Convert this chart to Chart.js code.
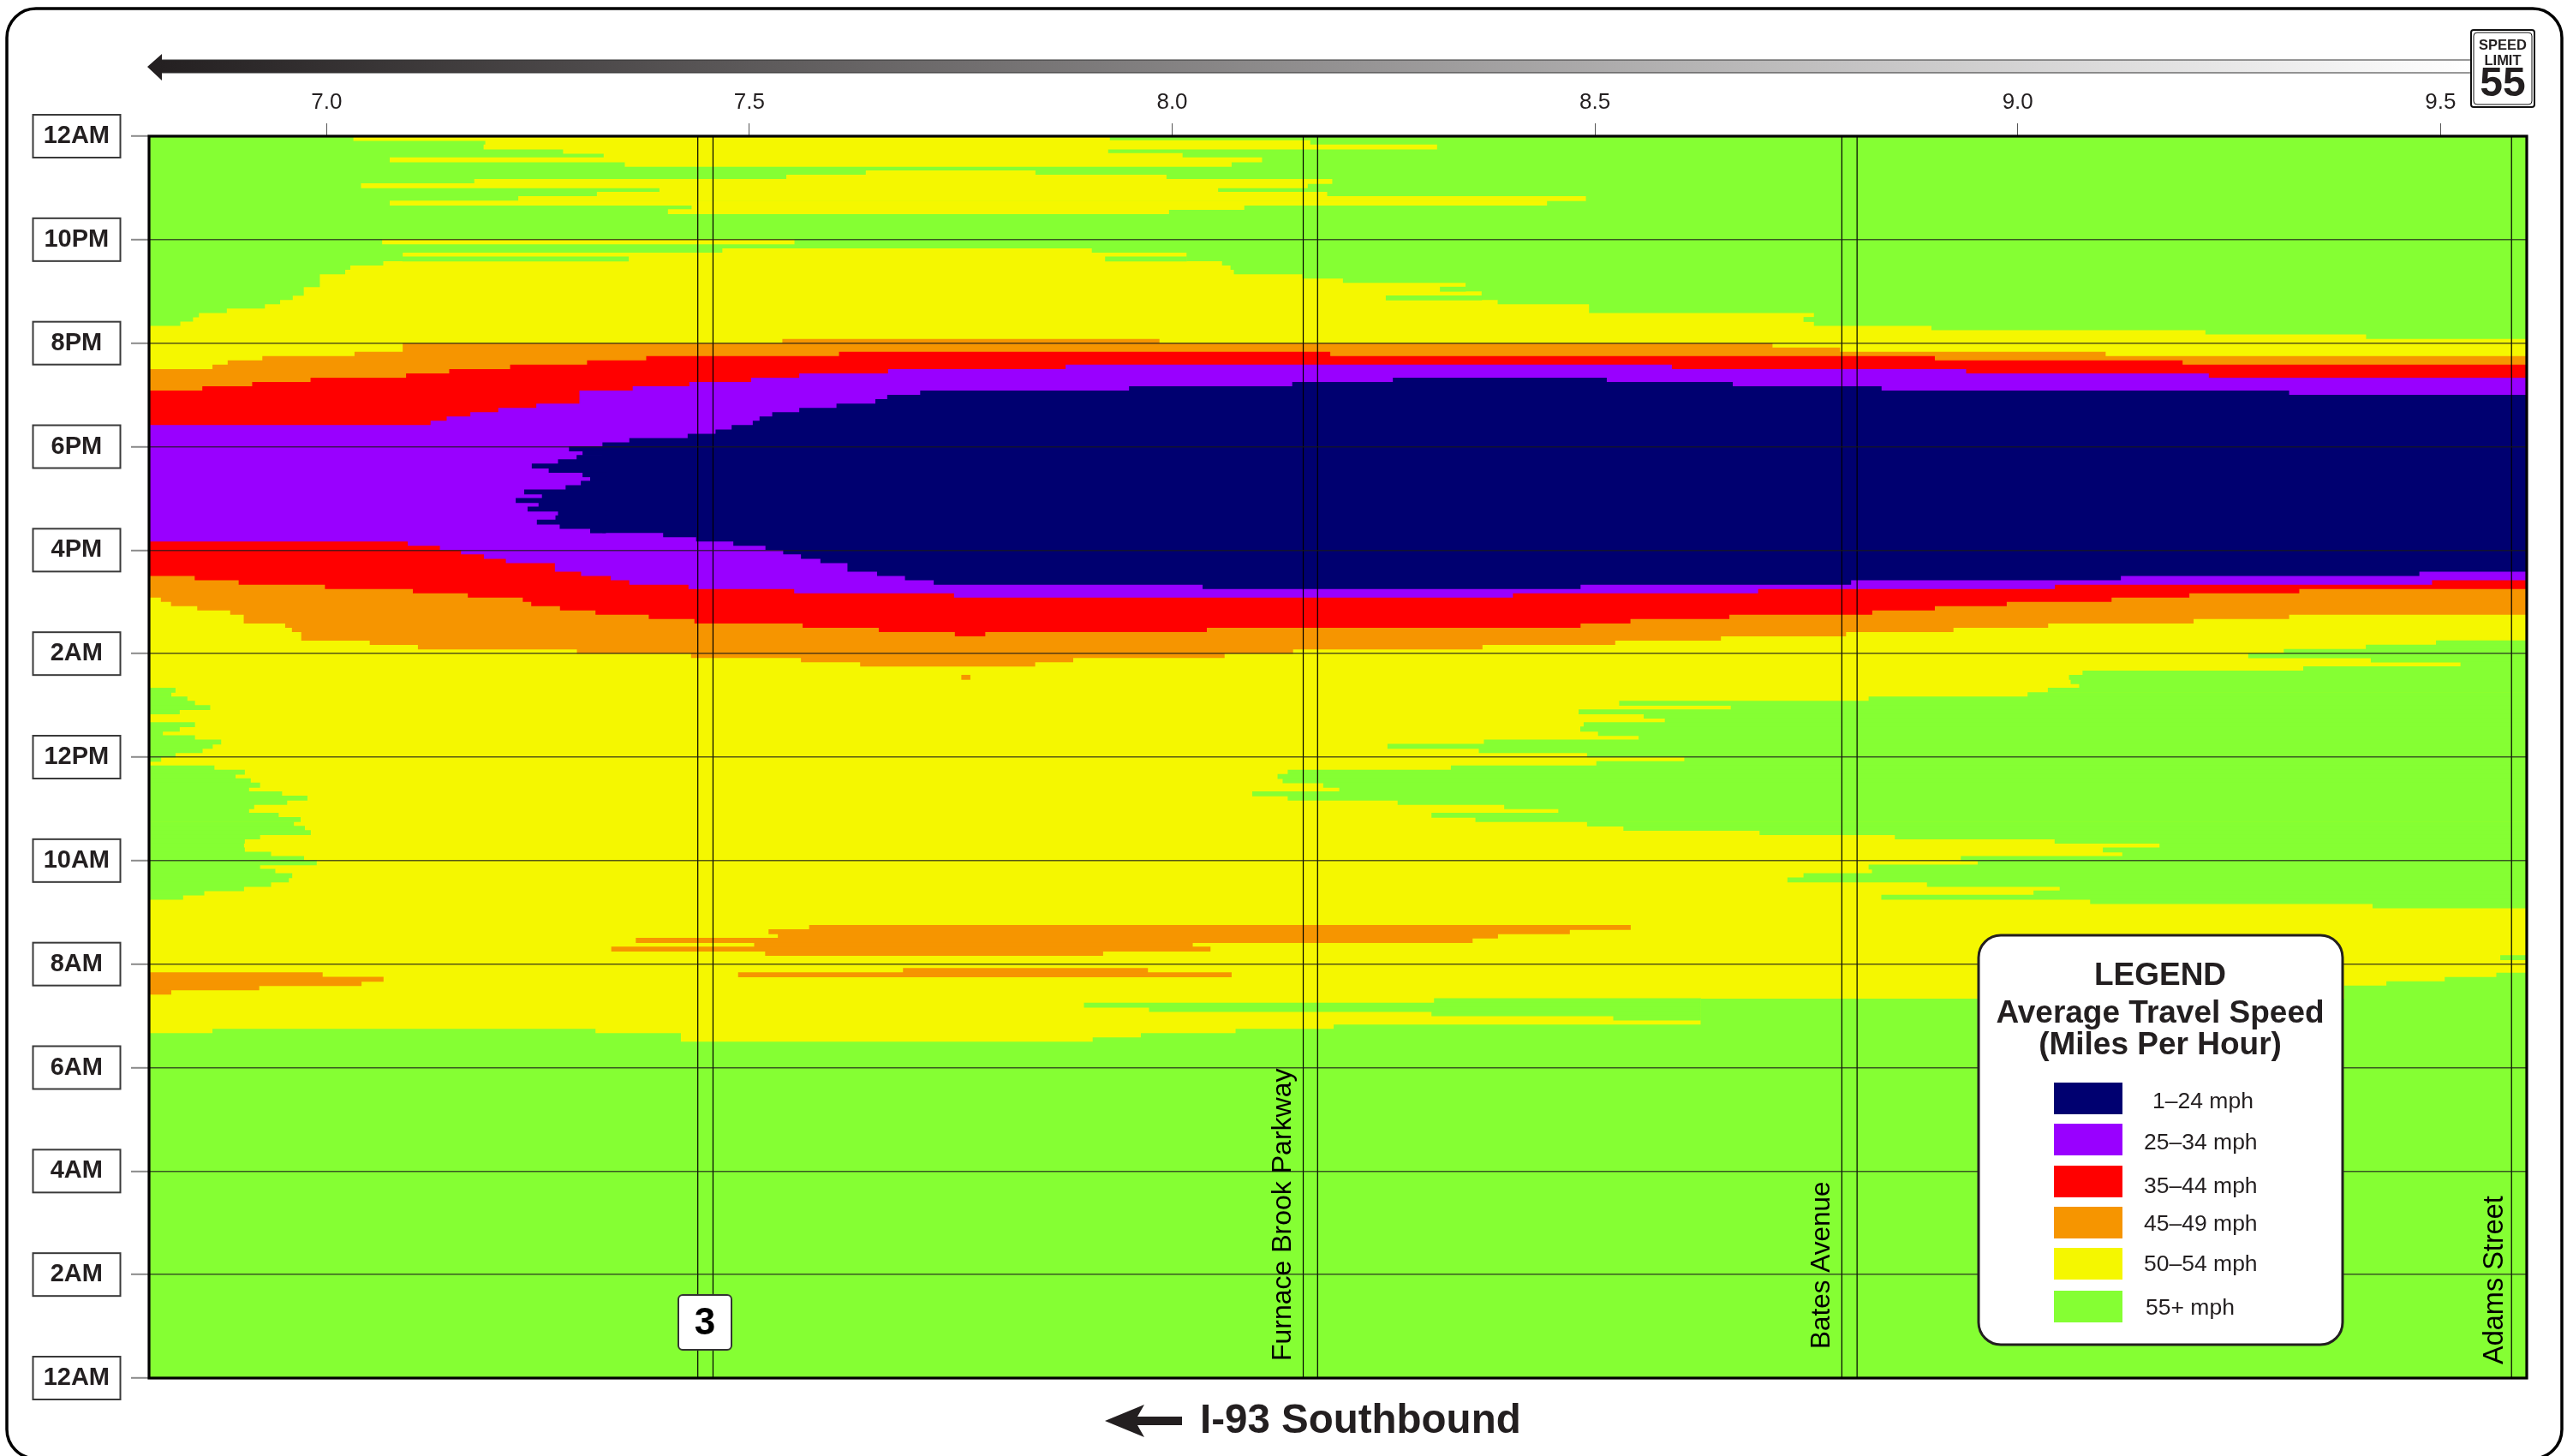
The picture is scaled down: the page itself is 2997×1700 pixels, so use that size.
<!DOCTYPE html>
<html>
<head>
<meta charset="utf-8">
<title>I-93 Southbound speed map</title>
<style>
  html, body { margin: 0; padding: 0; background: #fff; }
  canvas { display: block; }
</style>
<script src="https://cdn.jsdelivr.net/npm/chart.js@4/dist/chart.umd.min.js"></script>
</head>
<body>
<canvas id="speedMap" width="2997" height="1700"></canvas>
<script>
// axis range and labels
const mileMin = 6.79, mileMax = 9.602;
const hourLabels = ['12AM', '2AM', '4AM', '6AM', '8AM', '10AM', '12PM', '2AM', '4PM', '6PM', '8PM', '10PM', '12AM'];
const interchangeMiles = [7.439, 7.457, 8.155, 8.172, 8.792, 8.81, 9.584];

// speed classes
const speedLabels = ['1–24 mph', '25–34 mph', '35–44 mph', '45–49 mph', '50–54 mph', '55+ mph'];
const navy = '#000070', purple = '#9900ff', red = '#ff0000', orange = '#f69500', yellow = '#f5f700', green = '#85ff33';
const speedColors = [navy, purple, red, orange, yellow, green];

// class boundaries: each hour value holds from its mile up to the next mile
const greenTopMiles = [6.79, 6.865, 7.318, 7.419, 7.906, 7.963, 8.075, 8.191, 8.625, 9.386, 9.436, 9.505, 9.566];
const greenTopHours = [6.667, 6.75, 6.667, 6.5, 6.583, 6.667, 6.75, 6.833, 7.333, 7.583, 7.667, 7.75, 7.833];

const orangeBottomMiles = [6.79, 6.804, 6.816, 6.847, 6.886, 6.902, 6.951, 6.959, 6.97, 7.051, 7.108, 7.296, 7.431, 7.561, 7.631, 7.838, 7.883, 8.062, 8.143, 8.367, 8.524, 8.649, 8.797, 8.924, 9.036, 9.208, 9.321];
const orangeBottomHours = [15.083, 15, 14.917, 14.833, 14.75, 14.583, 14.5, 14.417, 14.25, 14.167, 14.083, 14, 13.917, 13.833, 13.75, 13.833, 13.917, 14, 14.083, 14.167, 14.25, 14.333, 14.417, 14.5, 14.583, 14.667, 14.75];

const redBottomMiles = [6.79, 6.844, 6.896, 6.998, 7.102, 7.167, 7.232, 7.242, 7.276, 7.318, 7.381, 7.435, 7.563, 7.653, 7.743, 7.779, 8.041, 8.483, 8.542, 8.659, 8.828, 8.902, 8.987, 9.111, 9.203, 9.333];
const redBottomHours = [15.5, 15.417, 15.333, 15.25, 15.167, 15.083, 15, 14.917, 14.833, 14.75, 14.667, 14.583, 14.5, 14.417, 14.333, 14.417, 14.5, 14.583, 14.667, 14.75, 14.833, 14.917, 15, 15.083, 15.167, 15.25];

const purpleBottomMiles = [6.79, 7.096, 7.134, 7.159, 7.186, 7.212, 7.27, 7.301, 7.336, 7.358, 7.428, 7.553, 7.742, 8.403, 8.693, 9.044, 9.49];
const purpleBottomHours = [16.167, 16.083, 16, 15.917, 15.833, 15.75, 15.583, 15.5, 15.417, 15.333, 15.25, 15.167, 15.083, 15.167, 15.25, 15.333, 15.417];

const navyBottomMiles = [7.326, 7.398, 7.437, 7.481, 7.519, 7.54, 7.561, 7.584, 7.616, 7.651, 7.684, 7.718, 8.036, 8.483, 8.803, 9.122, 9.475];
const navyBottomHours = [16.333, 16.25, 16.167, 16.083, 16, 15.917, 15.833, 15.75, 15.583, 15.5, 15.417, 15.333, 15.25, 15.333, 15.417, 15.5, 15.583];

const navyTopMiles = [6.79, 7.326, 7.358, 7.427, 7.46, 7.479, 7.504, 7.512, 7.527, 7.559, 7.603, 7.649, 7.663, 7.702, 7.949, 8.142, 8.261, 8.514, 8.663, 8.839, 9.321];
const navyTopHours = [18, 18.083, 18.167, 18.25, 18.333, 18.417, 18.5, 18.583, 18.667, 18.75, 18.833, 18.917, 19, 19.083, 19.167, 19.25, 19.333, 19.25, 19.167, 19.083, 19];

const purpleTopMiles = [6.79, 7.123, 7.142, 7.17, 7.203, 7.248, 7.299, 7.362, 7.429, 7.502, 7.559, 7.664, 7.874, 8.591, 8.939, 9.226];
const purpleTopHours = [18.417, 18.5, 18.583, 18.667, 18.75, 18.833, 19.083, 19.167, 19.25, 19.333, 19.417, 19.5, 19.583, 19.5, 19.417, 19.333];

const redTopMiles = [6.79, 6.853, 6.912, 6.981, 7.094, 7.145, 7.217, 7.308, 7.378, 7.606, 8.187, 8.902, 9.195];
const redTopHours = [19.083, 19.167, 19.25, 19.333, 19.417, 19.5, 19.583, 19.667, 19.75, 19.833, 19.75, 19.667, 19.583];

const orangeTopMiles = [6.79, 6.865, 6.883, 6.924, 7.033, 7.09, 7.539, 7.985, 8.71, 8.79, 9.104];
const orangeTopHours = [19.5, 19.583, 19.667, 19.75, 19.833, 20, 20.083, 20, 19.917, 19.833, 19.75];

const yellowTopMiles = [6.79, 6.827, 6.842, 6.849, 6.882, 6.927, 6.945, 6.96, 6.973, 6.992, 7.022, 7.028, 7.067, 7.09, 7.468, 7.905, 8.017, 8.059, 8.069, 8.073, 8.154, 8.202, 8.347, 8.366, 8.385, 8.493, 8.759, 8.898, 9.222, 9.412];
const yellowTopHours = [20.333, 20.417, 20.5, 20.583, 20.667, 20.75, 20.833, 20.917, 21.083, 21.333, 21.417, 21.5, 21.583, 21.75, 21.833, 21.75, 21.583, 21.5, 21.417, 21.333, 21.25, 21.167, 21, 20.833, 20.75, 20.583, 20.333, 20.25, 20.167, 20.083];

// single 5 minute rows that stick out of the bands
const nightYellowHours = [23.958, 23.875, 23.792, 23.708, 23.625, 23.542, 23.458, 23.292, 23.208, 23.125, 23.042, 22.958, 22.875, 22.792, 22.708, 22.625, 22.542, 21.958];
const nightYellowFrom = [7.032, 7.188, 7.186, 7.28, 7.328, 7.075, 7.353, 7.638, 7.544, 7.175, 7.041, 7.394, 7.32, 7.227, 7.075, 7.432, 7.404, 7.066];
const nightYellowTo = [7.926, 8.163, 8.313, 7.924, 8.012, 8.106, 8.07, 7.838, 7.993, 8.189, 8.16, 8.054, 8.183, 8.489, 8.443, 8.085, 7.996, 7.553];

const nightGreenHours = [21.625, 21.625, 21.042, 20.875, 20.458];
const nightGreenFrom = [7.09, 7.921, 8.317, 8.253, 8.747];
const nightGreenTo = [7.357, 8.017, 8.347, 8.366, 8.759];

const navyTipHours = [17.958, 17.875, 17.792, 17.708, 17.625, 17.542, 17.458, 17.375, 17.292, 17.208, 17.125, 17.042, 16.958, 16.875, 16.792, 16.708, 16.625, 16.542, 16.458, 16.375];
const navyTipFrom = [7.287, 7.303, 7.296, 7.274, 7.243, 7.263, 7.303, 7.312, 7.301, 7.283, 7.234, 7.255, 7.224, 7.251, 7.238, 7.274, 7.271, 7.249, 7.276, 7.312];

// midday green reaching in from the east end
const eastGreenHours = [14.208, 14.125, 14.042, 13.958, 13.875, 13.792, 13.708, 13.625, 13.542, 13.458, 13.375, 13.292, 13.208, 13.125, 13.042, 12.958, 12.875, 12.792, 12.708, 12.625, 12.542, 12.458, 12.375, 12.292, 12.208, 12.125, 12.042, 11.958, 11.875, 11.792, 11.708, 11.625, 11.542, 11.458, 11.375, 11.292, 11.208, 11.125, 11.042, 10.958, 10.875, 10.792, 10.708, 10.625, 10.542, 10.458, 10.375, 10.292, 10.208, 10.125, 10.042, 9.958, 9.875, 9.792, 9.708, 9.625, 9.542, 9.458, 9.375, 9.292, 9.208, 9.125, 8.125];
const eastGreenFrom = [9.495, 9.412, 9.315, 9.273, 9.418, 9.524, 9.338, 9.077, 9.061, 9.063, 9.073, 9.036, 9.012, 8.824, 8.529, 8.661, 8.481, 8.558, 8.583, 8.487, 8.483, 8.504, 8.552, 8.369, 8.255, 8.363, 8.491, 8.606, 8.502, 8.33, 8.137, 8.125, 8.131, 8.179, 8.198, 8.095, 8.137, 8.267, 8.393, 8.457, 8.307, 8.359, 8.491, 8.534, 8.695, 8.855, 9.044, 9.168, 9.101, 9.124, 8.933, 8.953, 8.824, 8.828, 8.747, 8.728, 8.893, 9.05, 9.019, 8.839, 9.086, 9.42, 9.571];

// midday green reaching in from the west end
const westGreenHours = [13.292, 13.208, 13.125, 13.042, 12.958, 12.875, 12.625, 12.542, 12.458, 12.375, 12.292, 12.208, 12.125, 12.042, 11.958, 11.792, 11.708, 11.625, 11.542, 11.458, 11.375, 11.292, 11.208, 11.125, 11.042, 10.958, 10.875, 10.792, 10.708, 10.625, 10.542, 10.458, 10.375, 10.292, 10.208, 10.125, 10.042, 9.958, 9.875, 9.792, 9.708, 9.625, 9.542, 9.458, 9.375, 9.292];
const westGreenTo = [6.821, 6.816, 6.835, 6.844, 6.862, 6.826, 6.844, 6.826, 6.806, 6.844, 6.875, 6.865, 6.853, 6.821, 6.804, 6.867, 6.903, 6.892, 6.91, 6.921, 6.908, 6.947, 6.977, 6.953, 6.914, 6.908, 6.943, 6.969, 6.961, 6.974, 6.981, 6.921, 6.903, 6.902, 6.903, 6.934, 6.973, 6.988, 6.921, 6.939, 6.959, 6.955, 6.934, 6.902, 6.855, 6.83];

const morningGreenHours = [7.292, 7.208, 7.125, 7.042, 6.958];
const morningGreenFrom = [8.31, 7.896, 7.973, 8.307, 8.522];
const morningGreenTo = [8.625, 8.625, 8.625, 8.625, 8.625];

// morning orange streaks
const amOrangeHours = [8.708, 8.625, 8.542, 8.458, 8.375, 8.292, 8.208, 7.875, 7.792, 7.792, 7.708, 7.625, 7.542, 7.458, 13.542];
const amOrangeFrom = [7.571, 7.523, 7.534, 7.366, 7.506, 7.337, 7.519, 7.682, 7.487, 6.79, 6.79, 6.79, 6.79, 6.79, 7.751];
const amOrangeTo = [8.542, 8.47, 8.385, 8.355, 8.024, 8.045, 7.918, 7.971, 8.07, 6.995, 7.067, 7.041, 6.92, 6.816, 7.761];

const stepBand = (color, miles, hours) => ({
  type: 'line',
  data: miles.map((m, i) => ({ x: m, y: hours[i] })).concat({ x: mileMax, y: hours[hours.length - 1] }),
  stepped: true,
  fill: 'end',
  backgroundColor: color,
  borderWidth: 0,
  pointRadius: 0
});

const rowBars = (color, hours, from, to) => ({
  type: 'bar',
  indexAxis: 'y',
  grouped: false,
  barThickness: 5.1,
  backgroundColor: color,
  borderWidth: 0,
  data: hours.map((h, i) => ({ y: h, x: [from[i], to[i]] }))
});

const fullRange = (hours, value) => hours.map(() => value);

const datasets = [
  stepBand(green, [mileMin], [0]),
  stepBand(yellow, greenTopMiles, greenTopHours),
  stepBand(orange, orangeBottomMiles, orangeBottomHours),
  stepBand(red, redBottomMiles, redBottomHours),
  stepBand(purple, purpleBottomMiles, purpleBottomHours),
  stepBand(navy, navyBottomMiles, navyBottomHours),
  stepBand(purple, navyTopMiles, navyTopHours),
  stepBand(red, purpleTopMiles, purpleTopHours),
  stepBand(orange, redTopMiles, redTopHours),
  stepBand(yellow, orangeTopMiles, orangeTopHours),
  stepBand(green, yellowTopMiles, yellowTopHours),
  rowBars(yellow, nightYellowHours, nightYellowFrom, nightYellowTo),
  rowBars(green, nightGreenHours, nightGreenFrom, nightGreenTo),
  rowBars(navy, navyTipHours, navyTipFrom, fullRange(navyTipHours, 7.33)),
  rowBars(green, eastGreenHours, eastGreenFrom, fullRange(eastGreenHours, mileMax)),
  rowBars(green, westGreenHours, fullRange(westGreenHours, mileMin), westGreenTo),
  rowBars(green, morningGreenHours, morningGreenFrom, morningGreenTo),
  rowBars(orange, amOrangeHours, amOrangeFrom, amOrangeTo)
];

interchangeMiles.forEach(m => {
  datasets.push({
    type: 'line',
    data: [{ x: m, y: 0 }, { x: m, y: 24 }],
    borderColor: '#000',
    borderWidth: 1.2,
    pointRadius: 0,
    fill: false
  });
});

// later datasets paint over earlier ones
datasets.forEach((d, i) => { d.order = datasets.length - i; });

const font = (size, bold) => (bold ? 'bold ' : '') + size + 'px "Liberation Sans", Arial, sans-serif';
const ink = '#231f20';

const sheetPlugin = {
  id: 'sheet',
  beforeDraw(chart) {
    const { ctx, scales: { y } } = chart;
    ctx.save();
    ctx.fillStyle = '#fff';
    ctx.fillRect(0, 0, chart.width, chart.height);
    ctx.strokeStyle = '#3a3a3a';
    ctx.lineWidth = 2;
    y.ticks.forEach(t => {
      ctx.strokeRect(38.5, y.getPixelForValue(t.value) - 25, 102, 50);
    });
    ctx.restore();
  },
  afterDraw(chart) {
    const { ctx, chartArea: a, scales: { x } } = chart;
    ctx.save();

    // plot border
    ctx.strokeStyle = '#000';
    ctx.lineWidth = 3.2;
    ctx.strokeRect(a.left, a.top, a.right - a.left, a.bottom - a.top);

    // road names
    const upright = (text, px, bottom, size) => {
      ctx.save();
      ctx.translate(px, bottom);
      ctx.rotate(-Math.PI / 2);
      ctx.font = font(size);
      ctx.fillStyle = '#000';
      ctx.textAlign = 'left';
      ctx.textBaseline = 'middle';
      ctx.fillText(text, 0, 0);
      ctx.restore();
    };
    upright('Furnace Brook Parkway', x.getPixelForValue(interchangeMiles[2]) - 23, 1589, 32);
    upright('Bates Avenue', x.getPixelForValue(interchangeMiles[4]) - 23, 1575, 31.5);
    upright('Adams Street', x.getPixelForValue(interchangeMiles[6]) - 19, 1593, 32.5);

    // route 3 shield
    ctx.fillStyle = '#fff';
    ctx.strokeStyle = '#333';
    ctx.lineWidth = 2;
    ctx.beginPath();
    ctx.roundRect(792, 1512, 62, 64, 5);
    ctx.fill();
    ctx.stroke();
    ctx.fillStyle = '#000';
    ctx.font = font(44, true);
    ctx.textAlign = 'center';
    ctx.textBaseline = 'middle';
    ctx.fillText('3', 823, 1546);

    // legend box
    ctx.fillStyle = '#fff';
    ctx.strokeStyle = ink;
    ctx.lineWidth = 3;
    ctx.beginPath();
    ctx.roundRect(2310, 1092, 425, 478, 26);
    ctx.fill();
    ctx.stroke();
    ctx.fillStyle = ink;
    ctx.font = font(37, true);
    ctx.fillText('LEGEND', 2522, 1140);
    ctx.fillText('Average Travel Speed', 2522, 1184);
    ctx.fillText('(Miles Per Hour)', 2522, 1221);
    const swatchTops = [1264, 1312, 1361, 1409, 1457, 1507];
    const labelMids = [1287, 1335, 1386, 1430, 1477, 1528];
    const labelLefts = [2513, 2503, 2503, 2503, 2503, 2505];
    ctx.textAlign = 'left';
    ctx.font = font(26.5);
    speedLabels.forEach((label, i) => {
      ctx.fillStyle = speedColors[i];
      ctx.fillRect(2398, swatchTops[i], 80, 37);
      ctx.fillStyle = ink;
      ctx.fillText(label, labelLefts[i], labelMids[i]);
    });

    // direction bar on top
    const fade = ctx.createLinearGradient(172, 0, 2886, 0);
    fade.addColorStop(0, '#231f20');
    fade.addColorStop(1, '#ffffff');
    ctx.fillStyle = fade;
    ctx.beginPath();
    ctx.moveTo(172, 78);
    ctx.lineTo(189, 63);
    ctx.lineTo(189, 70);
    ctx.lineTo(2886, 70);
    ctx.lineTo(2886, 85);
    ctx.lineTo(189, 85);
    ctx.lineTo(189, 94);
    ctx.closePath();
    ctx.fill();
    ctx.strokeStyle = '#333';
    ctx.lineWidth = 1.2;
    ctx.beginPath();
    ctx.moveTo(189, 70);
    ctx.lineTo(2886, 70);
    ctx.moveTo(189, 85);
    ctx.lineTo(2886, 85);
    ctx.stroke();

    // speed limit sign
    ctx.fillStyle = '#fff';
    ctx.strokeStyle = '#111';
    ctx.lineWidth = 2;
    ctx.beginPath();
    ctx.roundRect(2885, 35, 74, 90, 3);
    ctx.fill();
    ctx.stroke();
    ctx.lineWidth = 1;
    ctx.beginPath();
    ctx.roundRect(2888, 38, 68, 84, 4);
    ctx.stroke();
    ctx.fillStyle = ink;
    ctx.textAlign = 'center';
    ctx.font = font(16.5, true);
    ctx.fillText('SPEED', 2922, 53);
    ctx.fillText('LIMIT', 2922, 71);
    ctx.font = font(48, true);
    ctx.fillText('55', 2922, 99);

    // road title with arrow
    ctx.fillStyle = ink;
    ctx.beginPath();
    ctx.moveTo(1290, 1659);
    ctx.lineTo(1336, 1640);
    ctx.lineTo(1328, 1654);
    ctx.lineTo(1380, 1654);
    ctx.lineTo(1380, 1664);
    ctx.lineTo(1328, 1664);
    ctx.lineTo(1336, 1678);
    ctx.closePath();
    ctx.fill();
    ctx.font = font(47.5, true);
    ctx.textAlign = 'left';
    ctx.fillText('I-93 Southbound', 1401, 1660);

    // page frame, bottom edge runs off the sheet
    ctx.strokeStyle = '#000';
    ctx.lineWidth = 3.5;
    ctx.beginPath();
    ctx.roundRect(8, 10, 2983, 1693, 34);
    ctx.stroke();

    ctx.restore();
  }
};

new Chart(document.getElementById('speedMap').getContext('2d'), {
  type: 'line',
  data: { datasets },
  plugins: [sheetPlugin],
  options: {
    responsive: false,
    animation: false,
    devicePixelRatio: 1,
    events: [],
    layout: { padding: { left: 0, top: 0, right: 47, bottom: 91 } },
    plugins: {
      legend: { display: false },
      tooltip: { enabled: false }
    },
    scales: {
      x: {
        type: 'linear',
        position: 'top',
        min: mileMin,
        max: mileMax,
        offset: false,
        afterFit(scale) { scale.height = 159; },
        grid: { offset: false, drawOnChartArea: false, drawTicks: true, tickLength: 15, tickColor: '#555', tickWidth: 1 },
        border: { display: false },
        ticks: {
          stepSize: 0.5,
          includeBounds: false,
          autoSkip: false,
          maxRotation: 0,
          padding: 9,
          color: ink,
          font: { family: '"Liberation Sans", Arial, sans-serif', size: 26 },
          callback: v => v.toFixed(1)
        }
      },
      y: {
        type: 'linear',
        min: 0,
        max: 24,
        offset: false,
        beginAtZero: true,
        afterFit(scale) { scale.width = 174; },
        grid: { offset: false, z: 1, color: 'rgba(25,25,25,0.72)', lineWidth: 1.6, drawTicks: true, tickLength: 21, tickColor: '#8a8a8a', tickWidth: 2 },
        border: { display: false },
        ticks: {
          stepSize: 2,
          autoSkip: false,
          crossAlign: 'center',
          padding: 25,
          color: ink,
          font: { family: '"Liberation Sans", Arial, sans-serif', size: 29, weight: 'bold' },
          callback: v => hourLabels[v / 2]
        }
      }
    }
  }
});
</script>
</body>
</html>
